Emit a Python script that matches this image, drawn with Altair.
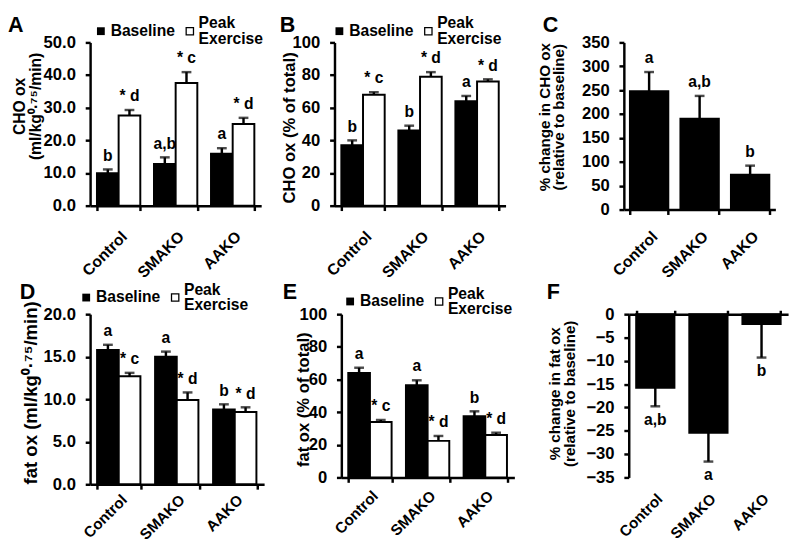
import altair as alt
import pandas as pd

FONT = "Liberation Sans"

groups = ["Control", "SMAKO", "AAKO"]
phases = ["Baseline", "Peak Exercise"]

# Panel A: CHO ox (ml/kg^0.75/min)
a_base = [9.9, 12.8, 15.9]
a_base_err = [1.2, 2.0, 1.7]
a_peak = [27.6, 37.6, 25.0]
a_peak_err = [1.7, 3.3, 1.9]
a_base_txt = ["b", "a,b", "a"]
a_peak_txt = ["* d", "* c", "* d"]

# Panel B: CHO ox (% of total)
b_base = [37.0, 46.0, 64.0]
b_base_err = [3.0, 3.0, 3.2]
b_peak = [68.0, 79.0, 76.0]
b_peak_err = [1.5, 2.8, 1.4]
b_base_txt = ["b", "b", "a"]
b_peak_txt = ["* c", "* d", "* d"]

# Panel C: % change in CHO ox
c_val = [248.0, 190.0, 73.0]
c_err = [40.0, 48.0, 19.0]
c_txt = ["a", "a,b", "b"]

# Panel D: fat ox (ml/kg^0.75/min)
d_base = [15.8, 15.0, 8.8]
d_base_err = [0.6, 0.6, 0.6]
d_peak = [12.7, 9.9, 8.5]
d_peak_err = [0.4, 0.9, 0.55]
d_base_txt = ["a", "a", "b"]
d_peak_txt = ["* c", "* d", "* d"]

# Panel E: fat ox (% of total)
e_base = [64.0, 56.5, 37.5]
e_base_err = [3.2, 3.0, 3.0]
e_peak = [34.0, 22.4, 26.0]
e_peak_err = [1.2, 3.0, 1.4]
e_base_txt = ["a", "a", "b"]
e_peak_txt = ["* c", "* d", "* d"]

# Panel F: % change in fat ox
f_val = [-15.8, -25.4, -2.1]
f_err = [3.95, 6.2, 7.2]
f_txt = ["a,b", "a", "b"]

ONE = pd.DataFrame({"k": [0]})
TXT = dict(font=FONT, fontWeight="bold", color="black")


def frame(x1, x2, y1, y2):
    return alt.Chart(ONE).mark_rect(opacity=0, fillOpacity=0).encode(
        x=alt.value(x1), x2=alt.value(x2), y=alt.value(y1), y2=alt.value(y2)
    )


def letter(ch, x, y):
    return alt.Chart(ONE).mark_text(align="left", baseline="top", fontSize=22, **TXT).encode(
        x=alt.value(x), y=alt.value(y), text=alt.value(ch)
    )


def legend(x0, y0):
    peak_words = phases[1].split(" ")
    sq_b = alt.Chart(ONE).mark_square(size=64, color="black", opacity=1).encode(
        x=alt.value(x0), y=alt.value(y0))
    t_b = alt.Chart(ONE).mark_text(align="left", baseline="middle", fontSize=16, **TXT).encode(
        x=alt.value(x0 + 10), y=alt.value(y0), text=alt.value(phases[0]))
    sq_w = alt.Chart(ONE).mark_square(size=56, fill="white", stroke="black", strokeWidth=1.3,
                                      filled=True, opacity=1).encode(
        x=alt.value(x0 + 91), y=alt.value(y0))
    t_w1 = alt.Chart(ONE).mark_text(align="left", baseline="middle", fontSize=16, **TXT).encode(
        x=alt.value(x0 + 100), y=alt.value(y0 - 8), text=alt.value(peak_words[0]))
    t_w2 = alt.Chart(ONE).mark_text(align="left", baseline="middle", fontSize=16, **TXT).encode(
        x=alt.value(x0 + 100), y=alt.value(y0 + 8), text=alt.value(peak_words[1]))
    return [sq_b, t_b, sq_w, t_w1, t_w2]


def grouped(base, base_err, peak, peak_err, base_txt, peak_txt, ydomain, yvalues, yfmt,
            ytitle, tsize, tx, ty, w, h, xpad, fr, let, lg, tlh=16, xls=15.5):
    df = pd.DataFrame({
        "group": groups + groups,
        "phase": [phases[0]] * 3 + [phases[1]] * 3,
        "value": base + peak,
        "err": base_err + peak_err,
        "txt": base_txt + peak_txt,
    })
    df["top"] = df["value"] + df["err"]
    xs = alt.Scale(paddingInner=0.24, paddingOuter=0.12)
    xo = alt.XOffset("phase:N", sort=phases, scale=alt.Scale(paddingInner=0, paddingOuter=0))
    ys = alt.Scale(domain=ydomain, nice=False)
    xax = alt.Axis(title=None, labelAngle=-45, tickBand="extent", labelPadding=xpad,
                   labelFontSize=xls)
    yax = alt.Axis(values=yvalues, format=yfmt, title=ytitle, titleFontSize=tsize,
                   titleX=tx, titleY=ty, titleLineHeight=tlh)
    xn = alt.X("group:N", sort=groups, scale=xs, axis=xax)
    base_c = alt.Chart(df)
    bars = base_c.mark_bar(stroke="black", strokeWidth=2).encode(
        x=xn, xOffset=xo,
        y=alt.Y("value:Q", scale=ys, axis=yax),
        fill=alt.Fill("phase:N", sort=phases,
                      scale=alt.Scale(domain=phases, range=["black", "white"]), legend=None),
    )
    rule = base_c.mark_rule(color="black", strokeWidth=2.5).encode(
        x=xn, xOffset=xo, y=alt.Y("value:Q", scale=ys, axis=yax), y2="top:Q")
    cap = base_c.mark_tick(orient="horizontal", size=10, thickness=2.5, color="black").encode(
        x=xn, xOffset=xo, y=alt.Y("top:Q", scale=ys, axis=yax))
    txt = base_c.mark_text(dy=-6, baseline="bottom", fontSize=16, **TXT).encode(
        x=xn, xOffset=xo, y=alt.Y("top:Q", scale=ys, axis=yax), text="txt:N")
    return alt.layer(frame(*fr), bars, rule, cap, txt, letter(*let), *legend(*lg)).properties(
        width=w, height=h)


def single(val, err, labels, ydomain, yvalues, yfmt, ytitle, tsize, tx, ty, w, h, xpad, fr, let,
           tlh=15, xls=15.5):
    df = pd.DataFrame({"group": groups, "value": val, "err": err, "txt": labels})
    df["top"] = df["value"] + df["err"]
    xs = alt.Scale(paddingInner=0.24, paddingOuter=0.12)
    ys = alt.Scale(domain=ydomain, nice=False)
    xax = alt.Axis(title=None, labelAngle=-45, tickBand="extent", labelPadding=xpad,
                   labelFontSize=xls)
    yax = alt.Axis(values=yvalues, format=yfmt, title=ytitle, titleFontSize=tsize,
                   titleX=tx, titleY=ty, titleLineHeight=tlh)
    xn = alt.X("group:N", sort=groups, scale=xs, axis=xax)
    base_c = alt.Chart(df)
    bars = base_c.mark_bar(color="black", stroke="black", strokeWidth=2).encode(
        x=xn, y=alt.Y("value:Q", scale=ys, axis=yax))
    rule = base_c.mark_rule(color="black", strokeWidth=2.5).encode(
        x=xn, y=alt.Y("value:Q", scale=ys, axis=yax), y2="top:Q")
    cap = base_c.mark_tick(orient="horizontal", size=10, thickness=2.5, color="black").encode(
        x=xn, y=alt.Y("top:Q", scale=ys, axis=yax))
    txt = base_c.mark_text(dy=-6, baseline="bottom", fontSize=16, **TXT).encode(
        x=xn, y=alt.Y("top:Q", scale=ys, axis=yax), text="txt:N")
    return alt.layer(frame(*fr), bars, rule, cap, txt, letter(*let)).properties(width=w, height=h)


def negative(val, err, labels, ydomain, yvalues, ytitle, tsize, tx, ty, w, h, xpad, fr, let,
             tlh=16):
    df = pd.DataFrame({"group": groups, "value": val, "err": err, "txt": labels})
    df["low"] = df["value"] - df["err"]
    xs = alt.Scale(paddingInner=0.28, paddingOuter=0.14)
    ys = alt.Scale(domain=ydomain, nice=False)
    yax = alt.Axis(values=yvalues, format="d", title=ytitle, titleFontSize=tsize,
                   titleX=tx, titleY=ty, titleLineHeight=tlh)
    xtop = alt.Axis(orient="top", labels=False, title=None, tickBand="extent", tickSize=4)
    xbot = alt.Axis(orient="bottom", domain=False, ticks=False, title=None,
                    labelAngle=-45, labelPadding=xpad, labelFontSize=15.5)
    base_c = alt.Chart(df)
    bars = base_c.mark_bar(color="black", stroke="black", strokeWidth=2).encode(
        x=alt.X("group:N", sort=groups, scale=xs, axis=xtop),
        y=alt.Y("value:Q", scale=ys, axis=yax))
    rule = base_c.mark_rule(color="black", strokeWidth=2.5).encode(
        x=alt.X("group:N", sort=groups, scale=xs, axis=None),
        y=alt.Y("value:Q", scale=ys, axis=yax), y2="low:Q")
    cap = base_c.mark_tick(orient="horizontal", size=10, thickness=2.5, color="black").encode(
        x=alt.X("group:N", sort=groups, scale=xs, axis=None),
        y=alt.Y("low:Q", scale=ys, axis=yax))
    txt = base_c.mark_text(dy=6, baseline="top", fontSize=16, **TXT).encode(
        x=alt.X("group:N", sort=groups, scale=xs, axis=xbot),
        y=alt.Y("low:Q", scale=ys, axis=yax), text="txt:N")
    return alt.layer(frame(*fr), bars, rule, cap, txt, letter(*let)).resolve_axis(
        x="independent").properties(width=w, height=h)


# row 1: plot tops aligned; frames share the same relative top/bottom
pA = grouped(a_base, a_base_err, a_peak, a_peak_err, a_base_txt, a_peak_txt,
             [0, 50], [0, 10, 20, 30, 40, 50], ".1f", ["CHO ox", "(ml/kg⁰·⁷⁵/min)"], 16,
             -64, 65, 175, 167, 18, (-84, 192, -28, 244), ("A", -84, -28), (11, -11.5), xls=16)
pB = grouped(b_base, b_base_err, b_peak, b_peak_err, b_base_txt, b_peak_txt,
             [0, 100], [0, 20, 40, 60, 80, 100], "d", "CHO ox (% of total)", 17,
             -37, 87, 175, 167, 18, (-58, 186, -28, 244), ("B", -56, -28), (5, -11.5), xls=16)
pC = single(c_val, c_err, c_txt, [0, 350], list(range(0, 351, 50)), "d",
            ["% change in CHO ox", "(relative to baseline)"], 15.5, -73, 76, 155, 171, 14,
            (-92, 172, -28, 244), ("C", -83, -28), tlh=14, xls=16)
# row 2
pD = grouped(d_base, d_base_err, d_peak, d_peak_err, d_base_txt, d_peak_txt,
             [0, 20], [0, 5, 10, 15, 20], ".1f", "fat ox (ml/kg⁰·⁷⁵/min)", 19,
             -51, 80, 178, 174, 3, (-72, 188, -33, 234), ("D", -72, -33), (-4, -17))
pE = grouped(e_base, e_base_err, e_peak, e_peak_err, e_base_txt, e_peak_txt,
             [0, 100], [0, 20, 40, 60, 80, 100], "d", "fat ox (% of total)", 17,
             -30, 87, 177, 167, 6, (-65, 204, -33, 234), ("E", -60, -33), (9, -13))
pF = negative(f_val, f_err, f_txt, [-35, 0], list(range(-35, 1, 5)),
              ["% change in fat ox", "(relative to baseline)"], 15.5, -68, 81, 163, 167, 14,
              (-90, 165, -33, 234), ("F", -84, -33), tlh=16)

chart = alt.concat(pA, pB, pC, pD, pE, pF, columns=3, spacing=0, align="none",
                   bounds="full").properties(padding=0).configure_view(
    stroke=None
).configure_axis(
    labelFont=FONT, labelFontWeight="bold", labelFontSize=17, labelColor="black",
    titleFont=FONT, titleFontWeight="bold", titleFontSize=16, titleColor="black",
    titleLineHeight=17, domainColor="black", domainWidth=2.5, tickColor="black",
    tickWidth=2.5, tickSize=5, grid=False, labelPadding=10
)

chart.save("out.html", embed_options={"renderer": "svg", "actions": False})
